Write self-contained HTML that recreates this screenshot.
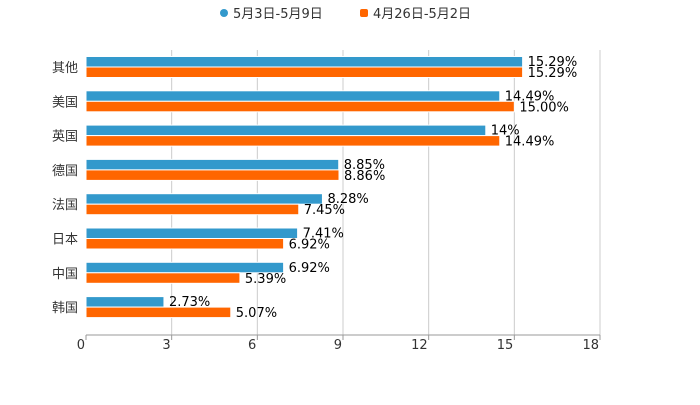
<!DOCTYPE html>
<html><head><meta charset="utf-8"><style>
body{margin:0;background:#fff;}
svg{font-family:"DejaVu Sans","Liberation Sans","Noto Sans CJK SC",sans-serif;}
</style></head><body>
<svg id="c" width="700" height="400">
<g>
 <g><circle cx="224" cy="13" r="4" fill="#3399cc"/><text x="233" y="18" font-size="13" fill="#333">5月3日-5月9日</text></g>
 <g><rect x="360" y="9" width="8" height="8" rx="2" fill="#ff6600"/><text x="373" y="18" font-size="13" fill="#333">4月26日-5月2日</text></g>
</g>
<g id="grid"></g>
<g id="bars"></g>
<g id="axis"></g>
</svg>
<script>
const categories=["其他","美国","英国","德国","法国","日本","中国","韩国"];
const series1=[15.29,14.49,14,8.85,8.28,7.41,6.92,2.73];
const series1Labels=["15.29%","14.49%","14%","8.85%","8.28%","7.41%","6.92%","2.73%"];
const series2=[15.29,15.00,14.49,8.86,7.45,6.92,5.39,5.07];
const series2Labels=["15.29%","15.00%","14.49%","8.86%","7.45%","6.92%","5.39%","5.07%"];
const ticks=[0,3,6,9,12,15,18];
const NS="http://www.w3.org/2000/svg";
const x0=86,x1=600,yTop=50,yBot=335;
const xs=v=>x0+(v/18)*(x1-x0);
const rowH=34.3;
const yc=i=>67+rowH*i;
function mk(t,a,p){const e=document.createElementNS(NS,t);for(const k in a)e.setAttribute(k,a[k]);p.appendChild(e);return e;}
const grid=document.getElementById('grid'),bars=document.getElementById('bars'),axis=document.getElementById('axis');
ticks.forEach(t=>{
 if(t>0){const g=mk('line',{x1:xs(t),x2:xs(t),y1:yTop,y2:yBot,stroke:'#ccc','stroke-width':1},grid);
 
 }
 const tk=mk('line',{x1:xs(t),x2:xs(t),y1:yBot,y2:yBot+5,stroke:'#999'},axis);
 
 
 const tl=mk('text',{x:xs(t)-1,y:yBot+14,'font-size':13,fill:'#333','text-anchor':'end'},axis);
 tl.textContent=t;
 
 
});
const al=mk('line',{x1:x0,x2:x1,y1:yBot,y2:yBot,stroke:'#999'},axis);


categories.forEach((c,i)=>{
 const y=yc(i);
 const cl=mk('text',{x:x0-8,y:y+5,'font-size':13,fill:'#333','text-anchor':'end'},bars);
 cl.textContent=c;
 
 
 const b1=mk('rect',{x:x0,y:y-10.5,width:xs(series1[i])-x0,height:10.5,fill:'#3399cc',stroke:'#fff','stroke-width':1},bars);
 
 
 const b2=mk('rect',{x:x0,y:y,width:xs(series2[i])-x0,height:10.5,fill:'#ff6600',stroke:'#fff','stroke-width':1},bars);
 
 
 const l1=mk('text',{x:xs(series1[i])+5,y:y-1,'font-size':13,fill:'#000'},bars);
 l1.textContent=series1Labels[i];
 
 
 const l2=mk('text',{x:xs(series2[i])+5,y:y+10,'font-size':13,fill:'#000'},bars);
 l2.textContent=series2Labels[i];
 
 
});
</script>
</body></html>
